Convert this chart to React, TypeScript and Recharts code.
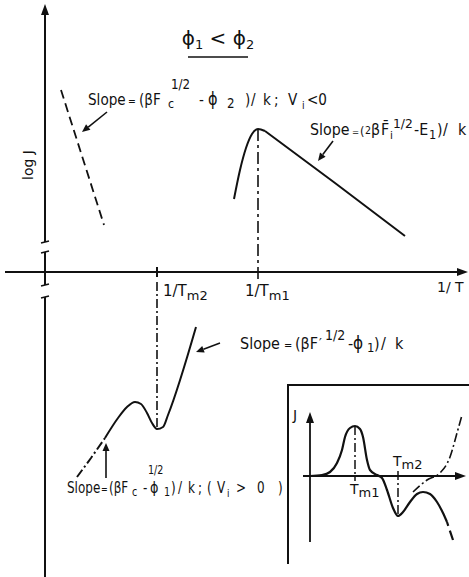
import React from 'react';
import { LineChart, Line, XAxis, YAxis, ReferenceLine, ReferenceDot } from 'recharts';

// main diagram: x = 1/T, y = log J (arbitrary units, axes cross at 0,0)
const vNegInvT = [0.16, 0.59];
const vNegLogJ = [1.82, 0.47];

// Vi > 0 peak: curved rise, then straight fall
const riseInvT = [1.89, 1.95, 2.01, 2.07, 2.13, 2.2];
const riseLogJ = [0.73, 1.02, 1.24, 1.38, 1.43, 1.41];
const fallInvT = [2.2, 2.9, 3.6];
const fallLogJ = [1.41, 0.89, 0.36];

const lowTailInvT = [0.32, 0.46, 0.6];
const lowTailLogJ = [-2.05, -1.86, -1.66];
const lowInvT = [0.6, 0.73, 0.82, 0.9, 0.96, 1.02, 1.07, 1.12, 1.18, 1.23, 1.51];
const lowLogJ = [-1.66, -1.46, -1.35, -1.3, -1.32, -1.41, -1.51, -1.57, -1.55, -1.43, -0.55];

// inset: J against T
const insetT = [0, 1.2, 2.0, 2.7, 3.2, 3.5, 4.0, 4.5, 5.0, 5.3, 5.7, 6.0, 6.7, 7.2, 7.7, 8.3, 8.8, 9.3, 10.0, 10.7, 11.3, 12.0, 12.7, 13.3, 13.7];
const insetJ = [0, 0.1, 0.4, 1.3, 2.6, 3.9, 4.8, 5.0, 4.7, 3.9, 1.6, 0.6, 0.1, -0.2, -1.4, -3.2, -4.0, -3.6, -2.6, -1.8, -1.6, -1.8, -2.6, -3.7, -4.6];
const insetTailT = [13.7, 14.3];
const insetTailJ = [-4.6, -6.4];
const insetRiseT = [10.3, 11.7, 13.0, 14.0, 14.7, 15.2];
const insetRiseJ = [-1.6, -0.4, 0.3, 1.9, 4.3, 6.1];

const pts = (xs: number[], ys: number[]) => xs.map((x, i) => ({ x, y: ys[i] }));

const INK = '#111';
const FONT = '"DejaVu Sans", sans-serif';
const DASH_DOT = '9 3 2 3';

// first local maximum / minimum of a sampled curve
const localMax = (ys: number[]) => ys.findIndex((y, i) => i > 0 && i < ys.length - 1 && y >= ys[i - 1] && y >= ys[i + 1]);
const localMin = (ys: number[]) => ys.findIndex((y, i) => i > 0 && i < ys.length - 1 && y <= ys[i - 1] && y <= ys[i + 1]);

const iPeak = localMax(riseLogJ);
const tm1 = { x: riseInvT[iPeak], y: riseLogJ[iPeak] };
const iMin = localMin(lowLogJ);
const tm2 = { x: lowInvT[iMin], y: lowLogJ[iMin] };

const iInsetMax = localMax(insetJ);
const insetTm1 = { x: insetT[iInsetMax], y: insetJ[iInsetMax] };
const iInsetMin = localMin(insetJ.slice(iInsetMax + 1)) + iInsetMax + 1;
const insetTm2 = { x: insetT[iInsetMin], y: insetJ[iInsetMin] };

// line with an arrow head at its second end
const arrowLine = (p: any) => {
  const { x1, y1, x2, y2 } = p;
  const a = Math.atan2(y2 - y1, x2 - x1);
  const L = 8;
  const w = 3.5;
  const bx = x2 - L * Math.cos(a);
  const by = y2 - L * Math.sin(a);
  const nx = -Math.sin(a) * w;
  const ny = Math.cos(a) * w;
  return (
    <g>
      <line x1={x1} y1={y1} x2={bx} y2={by} stroke={INK} strokeWidth={1.6} />
      <polygon points={`${x2},${y2} ${bx + nx},${by + ny} ${bx - nx},${by - ny}`} fill={INK} />
    </g>
  );
};

const headUp = (p: any) => (
  <polygon points={`${p.cx},${p.cy} ${p.cx - 4},${p.cy + 11} ${p.cx + 4},${p.cy + 11}`} fill={INK} />
);
const headRight = (p: any) => (
  <polygon points={`${p.cx},${p.cy} ${p.cx - 11},${p.cy - 4} ${p.cx - 11},${p.cy + 4}`} fill={INK} />
);

const txt = (content: React.ReactNode, size = 14, anchor: 'start' | 'middle' = 'start') => (p: any) => (
  <text x={p.cx} y={p.cy} fontFamily={FONT} fontSize={size} fill={INK} textAnchor={anchor}>
    {content}
  </text>
);

// lettered formula, slightly condensed: [text, x offset px, baseline shift, font size]
type Piece = [string, number, number, number];
const formula = (pieces: Piece[], sx: number) => (p: any) => (
  <text transform={`translate(${p.cx} ${p.cy}) scale(${sx} 1)`} fontFamily={FONT} fill={INK}>
    {pieces.map(([t, x, dy, size], i) => (
      <tspan key={i} x={x / sx} y={dy} fontSize={size}>
        {t}
      </tspan>
    ))}
  </text>
);

const slopeVneg: Piece[] = [
  ['Slope', 0, 0, 16],
  ['=', 40, 0, 11],
  ['(βF', 51, 0, 16],
  ['c', 80, 3, 13],
  ['1/2', 83, -16, 14],
  ['-', 111, 0, 16],
  ['ϕ', 120, 0, 17],
  ['2', 139, 3, 14],
  [')', 157, 0, 16],
  ['/', 163, 0, 16],
  ['k', 175, 0, 16],
  [';', 186, 0, 16],
  ['V', 200, 0, 16],
  ['i', 214, 4, 11],
  ['<0', 219, 0, 16],
];
const slopeFall: Piece[] = [
  ['Slope', 0, 0, 15],
  ['=', 42, 0, 9],
  ['(', 50, 0, 12],
  ['2', 55, -1, 10],
  ['β', 61, 0, 15],
  ['F̄', 71, 0, 15],
  ['i', 80, 4, 11],
  ['1/2', 83, -7, 13],
  ['-E', 104, 0, 15],
  ['1', 119, 4, 12],
  [')', 127, 0, 15],
  ['/', 133, 0, 15],
  ['k', 148, 0, 15],
];
const slopeSteep: Piece[] = [
  ['Slope', 0, 0, 16],
  ['=', 44, 0, 11],
  ['(βF', 55, 0, 16],
  ['′', 79, -1, 14],
  ['1/2', 85, -9, 14],
  ['-', 108, 0, 16],
  ['ϕ', 113, 0, 17],
  ['1', 127, 3, 13],
  [')', 134, 0, 16],
  ['/', 141, 0, 16],
  ['k', 155, 0, 16],
];
const slopeVpos: Piece[] = [
  ['Slope', 0, 0, 15],
  ['=', 34, 0, 10],
  ['(βF', 42, 0, 15],
  ['c', 65, 3, 12],
  ['1/2', 81, -19, 12],
  ['-', 76, 0, 15],
  ['ϕ', 83, 0, 16],
  ['1', 97, 3, 12],
  [')', 104, 0, 15],
  ['/', 111, 0, 15],
  ['k', 121, 0, 15],
  [';', 131, 0, 15],
  ['(', 140, 0, 15],
  ['V', 150, 0, 15],
  ['i', 160, 4, 11],
  ['>', 169, 0, 15],
  ['0', 190, 0, 15],
  [')', 211, 0, 15],
];

const axisLine = { stroke: INK, strokeWidth: 2 };
const plain = { dot: false, activeDot: false, isAnimationActive: false } as const;

function Inset() {
  return (
    <div style={{ position: 'absolute', left: 287, top: 384, width: 182, height: 180 }}>
      <div
        style={{
          position: 'absolute',
          left: 0,
          top: 0,
          width: 182,
          height: 180,
          borderLeft: `2px solid ${INK}`,
          borderTop: `2px solid ${INK}`,
          boxSizing: 'border-box',
        }}
      />
      <LineChart width={182} height={190} margin={{ top: 0, right: 0, bottom: 0, left: 0 }} style={{ position: 'absolute', left: 0, top: 0 }}>
        <XAxis type="number" dataKey="x" domain={[-2.3, 15.9]} allowDataOverflow hide />
        <YAxis type="number" dataKey="y" domain={[-9.8, 9.2]} allowDataOverflow hide />
        <ReferenceLine segment={[{ x: 0, y: -6.6 }, { x: 0, y: 6.0 }]} {...axisLine} strokeWidth={1.8} />
        <ReferenceDot x={0} y={6.4} r={1} shape={headUp} />
        <ReferenceLine segment={[{ x: -0.7, y: 0 }, { x: 15.2, y: 0 }]} {...axisLine} strokeWidth={1.8} />
        <ReferenceDot x={15.6} y={0} r={1} shape={headRight} />
        <ReferenceLine segment={[{ x: insetTm1.x, y: insetTm1.y }, { x: insetTm1.x, y: -0.5 }]} stroke={INK} strokeWidth={1.5} strokeDasharray={DASH_DOT} />
        <ReferenceLine segment={[{ x: insetTm2.x, y: 0.5 }, { x: insetTm2.x, y: insetTm2.y }]} stroke={INK} strokeWidth={1.5} strokeDasharray={DASH_DOT} />
        <Line data={pts(insetT, insetJ)} dataKey="y" type="monotone" stroke={INK} strokeWidth={2.2} {...plain} />
        <Line data={pts(insetTailT, insetTailJ)} dataKey="y" type="linear" stroke={INK} strokeWidth={2.2} strokeDasharray="4 5 12 40" {...plain} />
        <Line data={pts(insetRiseT, insetRiseJ)} dataKey="y" type="monotone" stroke={INK} strokeWidth={1.6} strokeDasharray={DASH_DOT} {...plain} />
        <ReferenceDot x={-1.7} y={5.6} r={1} shape={txt('J', 14)} />
        <ReferenceDot x={4.0} y={-1.8} r={1} shape={txt(<>T<tspan dy={3} fontSize={13}>m1</tspan></>, 14)} />
        <ReferenceDot x={8.3} y={1.0} r={1} shape={txt(<>T<tspan dy={3} fontSize={13}>m2</tspan></>, 14)} />
      </LineChart>
    </div>
  );
}

export default function App() {
  return (
    <div style={{ position: 'absolute', left: 0, top: 0, width: 469, height: 577, background: '#fff' }}>
      <LineChart width={469} height={577} margin={{ top: 0, right: 0, bottom: 0, left: 0 }}>
        <XAxis type="number" dataKey="x" domain={[-0.45, 4.24]} allowDataOverflow hide />
        <YAxis type="number" dataKey="y" domain={[-3.05, 2.72]} allowDataOverflow hide />

        {/* log J axis, broken twice */}
        <ReferenceLine segment={[{ x: 0, y: 2.6 }, { x: 0, y: 0.3 }]} {...axisLine} />
        <ReferenceLine segment={[{ x: -0.04, y: 0.29 }, { x: 0.04, y: 0.31 }]} {...axisLine} strokeWidth={1.5} />
        <ReferenceLine segment={[{ x: -0.04, y: 0.19 }, { x: 0.04, y: 0.21 }]} {...axisLine} strokeWidth={1.5} />
        <ReferenceLine segment={[{ x: 0, y: 0.2 }, { x: 0, y: -0.13 }]} {...axisLine} />
        <ReferenceLine segment={[{ x: -0.04, y: -0.14 }, { x: 0.04, y: -0.12 }]} {...axisLine} strokeWidth={1.5} />
        <ReferenceLine segment={[{ x: -0.04, y: -0.26 }, { x: 0.04, y: -0.24 }]} {...axisLine} strokeWidth={1.5} />
        <ReferenceLine segment={[{ x: 0, y: -0.25 }, { x: 0, y: -3.05 }]} {...axisLine} />
        <ReferenceDot x={0} y={2.68} r={1} shape={headUp} />

        {/* 1/T axis */}
        <ReferenceLine segment={[{ x: -0.4, y: 0 }, { x: 4.12, y: 0 }]} {...axisLine} />
        <ReferenceDot x={4.23} y={0} r={1} shape={headRight} />
        <ReferenceLine segment={[{ x: tm2.x, y: 0.05 }, { x: tm2.x, y: -0.05 }]} {...axisLine} />

        {/* Tm markers */}
        <ReferenceLine segment={[{ x: tm1.x, y: tm1.y }, { x: tm1.x, y: -0.08 }]} stroke={INK} strokeWidth={1.6} strokeDasharray="12 4 3 4" />
        <ReferenceLine segment={[{ x: tm2.x, y: -0.1 }, { x: tm2.x, y: tm2.y }]} stroke={INK} strokeWidth={1.6} strokeDasharray={DASH_DOT} />

        {/* curves */}
        <Line data={pts(vNegInvT, vNegLogJ)} dataKey="y" type="linear" stroke={INK} strokeWidth={1.8} strokeDasharray="9 5" {...plain} />
        <Line data={pts(riseInvT, riseLogJ)} dataKey="y" type="monotone" stroke={INK} strokeWidth={2} {...plain} />
        <Line data={pts(fallInvT, fallLogJ)} dataKey="y" type="linear" stroke={INK} strokeWidth={2} {...plain} />
        <Line data={pts(lowTailInvT, lowTailLogJ)} dataKey="y" type="linear" stroke={INK} strokeWidth={2} strokeDasharray={DASH_DOT} {...plain} />
        <Line data={pts(lowInvT, lowLogJ)} dataKey="y" type="monotone" stroke={INK} strokeWidth={2} {...plain} />

        {/* annotation arrows */}
        <ReferenceLine segment={[{ x: 0.62, y: 1.6 }, { x: 0.37, y: 1.4 }]} shape={arrowLine} />
        <ReferenceLine segment={[{ x: 2.88, y: 1.31 }, { x: 2.73, y: 1.11 }]} shape={arrowLine} />
        <ReferenceLine segment={[{ x: 1.75, y: -0.71 }, { x: 1.51, y: -0.8 }]} shape={arrowLine} />
        <ReferenceLine segment={[{ x: 0.61, y: -2.06 }, { x: 0.61, y: -1.71 }]} shape={arrowLine} />

        {/* title */}
        <ReferenceDot x={1.73} y={2.27} r={1} shape={txt(<>ϕ<tspan dy={4} fontSize={13}>1</tspan><tspan dy={-4}> &lt; ϕ</tspan><tspan dy={4} fontSize={13}>2</tspan></>, 20, 'middle')} />
        <ReferenceLine segment={[{ x: 1.43, y: 2.15 }, { x: 2.03, y: 2.15 }]} stroke={INK} strokeWidth={1.5} />

        {/* slope labels */}
        <ReferenceDot x={0.43} y={1.67} r={1} shape={formula(slopeVneg, 0.85)} />
        <ReferenceDot x={2.65} y={1.37} r={1} shape={formula(slopeFall, 0.95)} />
        <ReferenceDot x={1.95} y={-0.77} r={1} shape={formula(slopeSteep, 0.9)} />
        <ReferenceDot x={0.22} y={-2.21} r={1} shape={formula(slopeVpos, 0.8)} />

        {/* axis labels */}
        <ReferenceDot x={1.18} y={-0.24} r={1} shape={txt(<>1/T<tspan dy={4} fontSize={13}>m2</tspan></>, 15)} />
        <ReferenceDot x={2.0} y={-0.24} r={1} shape={txt(<>1/T<tspan dy={4} fontSize={13}>m1</tspan></>, 15)} />
        <ReferenceDot x={3.92} y={-0.2} r={1} shape={txt('1/ T', 14)} />
        <ReferenceDot
          x={-0.12}
          y={1.07}
          r={1}
          shape={(p: any) => (
            <text x={p.cx} y={p.cy} fontFamily={FONT} fontSize={14} fill={INK} textAnchor="middle" transform={`rotate(-90 ${p.cx} ${p.cy})`}>
              log J
            </text>
          )}
        />
      </LineChart>
      <Inset />
    </div>
  );
}
